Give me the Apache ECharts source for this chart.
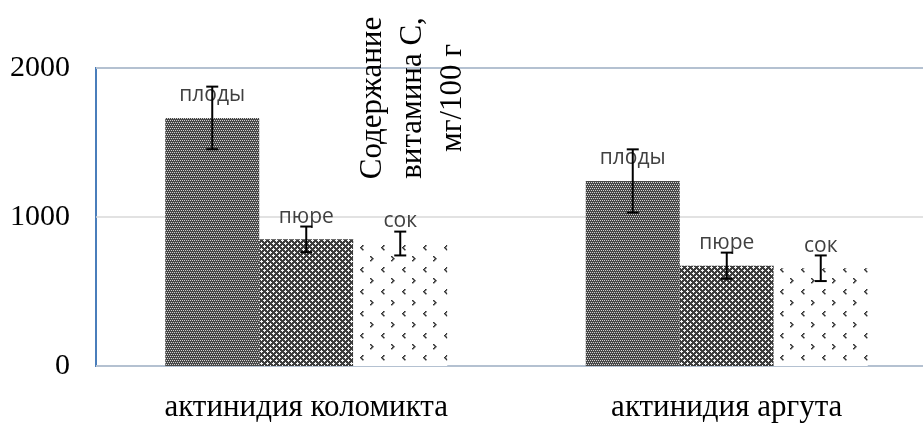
<!DOCTYPE html>
<html><head><meta charset="utf-8">
<script src="https://cdn.jsdelivr.net/npm/echarts@6/dist/echarts.min.js"></script>
<style>html,body{margin:0;padding:0;background:#fff;overflow:hidden}#c{width:937px;height:423px}</style>
</head><body><div id="c"></div>
<script>
var categories = ['актинидия коломикта', 'актинидия аргута'];
var seriesNames = ['плоды', 'пюре', 'сок'];
var plodyValues = [1665, 1242];
var pureValues = [850, 673];
var sokValues = [822, 656];
var plodyErr = [210, 212];
var pureErr = [86, 88];
var sokErr = [80, 86];
var yTicks = { min: 0, max: 2000, interval: 1000 };
var yTitle = 'Содержание\nвитамина С,\nмг/100 г';

function makePattern(w, h, draw) {
  var c = document.createElement('canvas');
  c.width = w; c.height = h;
  var g = c.getContext('2d');
  draw(g);
  return { image: c, repeat: 'repeat' };
}
var pat1 = makePattern(4, 4, function (g) {
  g.fillStyle = '#474747'; g.fillRect(0, 0, 4, 4);
  g.fillStyle = '#d2d2d2';
  [[0,0],[2,0],[1,2],[3,2]].forEach(function (p) { g.fillRect(p[0], p[1], 1, 1); });
});
var pat2 = makePattern(6, 6, function (g) {
  g.fillStyle = '#3c3c3c'; g.fillRect(0, 0, 6, 6);
  g.fillStyle = '#f4f4f4';
  [[3,2],[2,3],[3,3],[4,3],[3,4],[0,5],[0,0],[1,0],[5,0],[0,1]].forEach(function (p) { g.fillRect(p[0], p[1], 1, 1); });
});
var pat3 = makePattern(21, 22, function (g) {
  g.fillStyle = '#ffffff'; g.fillRect(0, 0, 21, 22);
  g.fillStyle = '#333333';
  [[5,3],[4,4],[3,5],[4,6],[5,7]].forEach(function (p) { g.fillRect(p[0], p[1], 1.6, 1.4); });
  [[13,14],[14,15],[15,16],[14,17],[13,18]].forEach(function (p) { g.fillRect(p[0], p[1], 1.6, 1.4); });
});
var patterns = [pat1, pat2, pat3];
var values = [plodyValues, pureValues, sokValues];
var errs = [plodyErr, pureErr, sokErr];
var BW = 94;

var series = [];
values.forEach(function (vals, i) {
  series.push({
    name: seriesNames[i], type: 'bar', barWidth: BW, barGap: '0%',
    data: vals,
    itemStyle: { color: patterns[i] },
    label: { show: true, position: 'top', distance: 12, formatter: seriesNames[i],
      fontFamily: 'Open Sans', fontSize: 21, color: '#404040' },
    z: 2
  });
});
values.forEach(function (vals, i) {
  var off = (i - 1) * BW;
  series.push({
    type: 'custom', z: 5,
    data: vals.map(function (v, k) { return [k, v, errs[i][k]]; }),
    renderItem: function (params, api) {
      var hi = api.coord([api.value(0), api.value(1) + api.value(2)]);
      var lo = api.coord([api.value(0), api.value(1) - api.value(2)]);
      var cx = hi[0] + off;
      var st = { stroke: '#000', lineWidth: 2 };
      return { type: 'group', children: [
        { type: 'line', shape: { x1: cx, y1: hi[1], x2: cx, y2: lo[1] }, style: st },
        { type: 'line', shape: { x1: cx - 6, y1: hi[1], x2: cx + 6, y2: hi[1] }, style: st },
        { type: 'line', shape: { x1: cx - 6, y1: lo[1], x2: cx + 6, y2: lo[1] }, style: st }
      ]};
    }
  });
});

var chart = echarts.init(document.getElementById('c'));
chart.setOption({
  animation: false,
  grid: { left: 96, top: 68, right: 0, height: 302, show: true, borderColor: '#4a7ebb', borderWidth: 2, containLabel: false },
  xAxis: { type: 'category', data: categories,
    axisLine: { show: false }, axisTick: { show: false },
    axisLabel: { margin: 26, fontFamily: 'Liberation Serif', fontSize: 31, color: '#000' } },
  yAxis: { type: 'value', min: yTicks.min, max: yTicks.max, interval: yTicks.interval,
    axisLine: { show: false }, axisTick: { show: false },
    splitLine: { lineStyle: { color: '#d9d9d9', width: 1.5 } },
    axisLabel: { margin: 26, fontFamily: 'Liberation Serif', fontSize: 30, color: '#000',
      formatter: function (v) { return String(v); } } },
  graphic: [{ type: 'text', x: 413, y: 98, rotation: Math.PI / 2, z: 10,
    style: { text: yTitle, fontFamily: 'Liberation Serif', fontSize: 31, lineHeight: 40,
      align: 'center', verticalAlign: 'middle', fill: '#000' } }],
  series: series
});
</script></body></html>
